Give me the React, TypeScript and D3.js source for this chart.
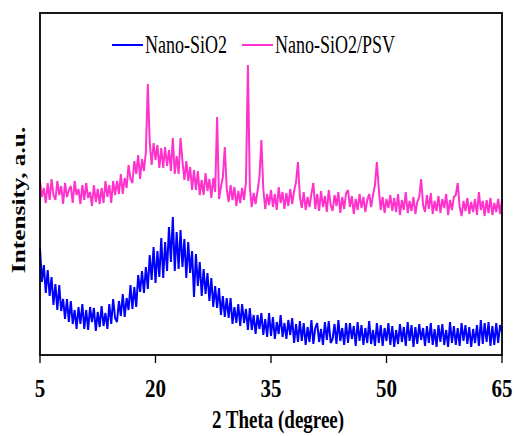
import React from 'react';
import * as d3 from 'd3';

// XRD step scan: 2θ from 5° to 65°, step 0.25°
const thetaStart = 5;
const thetaEnd = 65;
const thetaStep = 0.25;
const xTicks = [5, 20, 35, 50, 65];
const seriesNames = ['Nano-SiO2', 'Nano-SiO2/PSV'];
const seriesColors = ['#0000ff', '#ff33cc'];

// Intensity (a.u.)
const nanoSiO2 = [
  109, 75, 92, 64, 87, 61, 80, 52,
  73, 47, 72, 46, 58, 38, 58, 35,
  56, 33, 47, 28, 50, 33, 53, 28,
  47, 27, 50, 35, 49, 26, 45, 30,
  51, 31, 44, 28, 53, 33, 58, 39,
  35, 56, 41, 63, 40, 59, 47, 72,
  48, 70, 50, 82, 65, 86, 64, 90,
  68, 102, 77, 110, 74, 106, 80, 119,
  79, 115, 86, 130, 95, 140, 86, 125,
  88, 127, 90, 118, 79, 115, 84, 106,
  60, 103, 71, 95, 61, 88, 63, 84,
  56, 79, 50, 71, 49, 69, 42, 61,
  40, 59, 39, 59, 33, 50, 34, 53,
  31, 53, 34, 48, 27, 49, 27, 42,
  23, 42, 28, 44, 22, 38, 20, 44,
  21, 40, 18, 35, 23, 42, 20, 34,
  18, 37, 22, 39, 14, 33, 15, 36,
  16, 34, 12, 30, 15, 37, 13, 29,
  34, 15, 28, 12, 35, 17, 36, 14,
  18, 33, 13, 37, 16, 29, 12, 34,
  14, 34, 18, 31, 11, 35, 16, 32,
  12, 29, 14, 36, 13, 27, 11, 34,
  14, 32, 11, 29, 16, 34, 12, 31,
  10, 27, 13, 33, 15, 30, 11, 35,
  16, 32, 10, 30, 13, 33, 17, 29,
  11, 31, 14, 34, 12, 28, 10, 32,
  15, 33, 12, 27, 10, 35, 14, 31,
  12, 29, 11, 34, 16, 32, 13, 30,
  10, 28, 14, 32, 11, 37, 13, 34,
  15, 35, 11, 31, 12, 34, 14, 32,
  25,
];

const nanoSiO2PSV = [
  176, 160, 169, 154, 174, 157, 178, 162,
  157, 176, 162, 171, 153, 174, 160, 167,
  171, 154, 176, 162, 168, 153, 172, 157,
  174, 159, 165, 151, 172, 155, 168, 153,
  169, 154, 176, 160, 172, 154, 176, 162,
  176, 163, 183, 163, 179, 169, 192, 178,
  174, 196, 183, 202, 178, 198, 186, 205,
  273, 215, 192, 214, 197, 212, 189, 209,
  189, 210, 191, 207, 186, 219, 183, 201,
  183, 219, 196, 177, 196, 176, 190, 167,
  187, 167, 186, 162, 177, 162, 184, 166,
  178, 159, 179, 165, 240, 158, 170, 180,
  210, 168, 155, 172, 157, 170, 151, 166,
  154, 169, 157, 175, 292, 170, 150, 164,
  153, 166, 180, 217, 168, 148, 163, 152,
  167, 150, 163, 147, 170, 154, 165, 148,
  164, 151, 168, 153, 166, 175, 195, 160,
  149, 165, 147, 160, 150, 163, 174, 148,
  163, 146, 166, 150, 161, 145, 167, 152,
  146, 162, 151, 165, 144, 160, 148, 164,
  167, 150, 161, 143, 158, 147, 163, 149,
  160, 145, 157, 163, 150, 162, 172, 195,
  168, 147, 160, 144, 158, 149, 162, 146,
  159, 145, 163, 142, 157, 147, 165, 144,
  156, 146, 160, 143, 155, 160, 178, 152,
  145, 162, 148, 164, 143, 156, 146, 161,
  144, 158, 149, 163, 142, 157, 147, 160,
  162, 174, 150, 141, 156, 146, 159, 143,
  155, 145, 158, 142, 165, 147, 156, 141,
  157, 144, 159, 142, 154, 145, 158, 143,
  157,
];

const FONT = '"Liberation Serif", "Times New Roman", Times, serif';

export default function App() {
  const W = 514;
  const H = 436;
  const left = 40;
  const right = 502;
  const top = 13;
  const bottom = 355;

  const x = d3.scaleLinear().domain([thetaStart, thetaEnd]).range([left, right]);
  const y = d3.scaleLinear().domain([2, 344]).range([bottom, top]);

  const mkLine = (vals: number[]) =>
    d3
      .line<number>()
      .x((_, i) => x(thetaStart + i * thetaStep))
      .y((d) => y(d))(vals) || '';

  const series = [nanoSiO2, nanoSiO2PSV];

  return (
    <svg
      width={W}
      height={H}
      viewBox={`0 0 ${W} ${H}`}
      style={{ position: 'absolute', left: 0, top: 0, background: '#fff' }}
    >
      <rect x={0} y={0} width={W} height={H} fill="#fff" />
      {series.map((s, k) => (
        <path
          key={k}
          d={mkLine(s)}
          fill="none"
          stroke={seriesColors[k]}
          strokeWidth={2}
          strokeLinejoin="miter"
          strokeMiterlimit={2}
        />
      ))}
      {/* frame */}
      <rect
        x={left}
        y={top}
        width={right - left}
        height={bottom - top}
        fill="none"
        stroke="#000"
        strokeWidth={1.8}
      />
      {/* x ticks */}
      {xTicks.map((t) => (
        <g key={t}>
          <line x1={x(t)} x2={x(t)} y1={bottom} y2={bottom + 8} stroke="#000" strokeWidth={1.3} />
          <text
            transform={`translate(${x(t)},${bottom + 42}) scale(1,1.2)`}
            textAnchor="middle"
            fontFamily={FONT}
            fontWeight="bold"
            fontSize={21}
            fill="#000"
          >
            {t}
          </text>
        </g>
      ))}
      {/* axis titles */}
      <text
        transform={`translate(278,428) scale(1,1.3)`}
        textAnchor="middle"
        fontFamily={FONT}
        fontWeight="bold"
        fontSize={19}
        fill="#000"
      >
        2 Theta (degree)
      </text>
      <text
        transform={`translate(25,200) scale(1,1.3) rotate(-90)`}
        textAnchor="middle"
        fontFamily={FONT}
        fontWeight="bold"
        fontSize={19.5}
        fill="#000"
      >
        Intensity, a.u.
      </text>
      {/* legend */}
      {seriesNames.map((name, k) => {
        const lx = k === 0 ? 112 : 242;
        return (
          <g key={name}>
            <line x1={lx} x2={lx + 31} y1={45} y2={45} stroke={seriesColors[k]} strokeWidth={2} />
            <text
              transform={`translate(${lx + 33},53) scale(1,1.35)`}
              fontFamily={FONT}
              fontSize={18}
              fill="#000"
            >
              {name}
            </text>
          </g>
        );
      })}
    </svg>
  );
}
